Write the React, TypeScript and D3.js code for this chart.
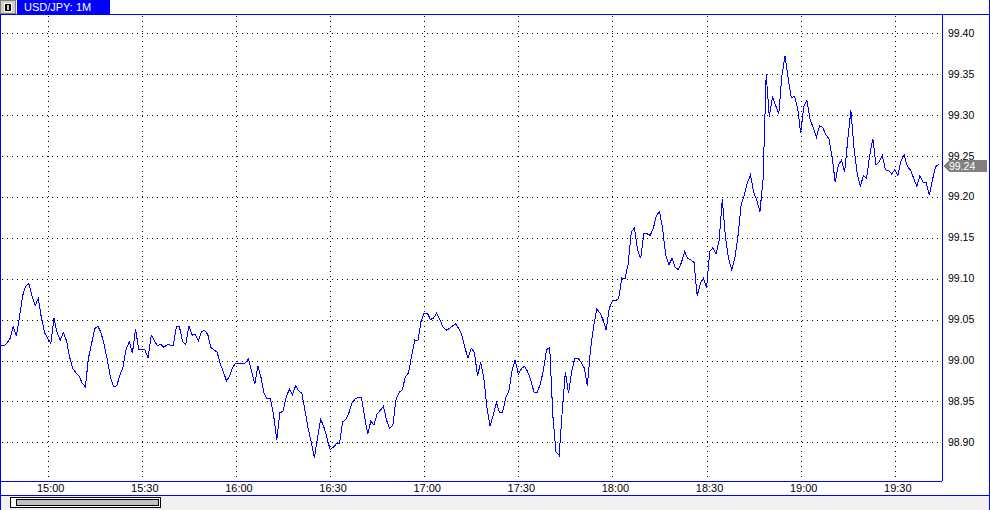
import React from 'react';
import * as d3 from 'd3';

const title = 'USD/JPY: 1M';
const startClock = [14, 45];
const prices = [
  99.018, 99.018, 99.021, 99.027, 99.041, 99.030, 99.053, 99.079, 99.091, 99.094,
  99.079, 99.067, 99.076, 99.052, 99.034, 99.027, 99.021, 99.052, 99.034, 99.025,
  99.034, 99.024, 99.004, 98.990, 98.985, 98.981, 98.972, 98.968, 99.003, 99.021,
  99.039, 99.042, 99.034, 99.019, 99.001, 98.979, 98.968, 98.969, 98.982, 98.992,
  99.014, 99.023, 99.009, 99.039, 99.013, 99.013, 99.013, 99.003, 99.031, 99.024,
  99.018, 99.020, 99.016, 99.019, 99.019, 99.018, 99.041, 99.041, 99.023, 99.019,
  99.042, 99.031, 99.032, 99.024, 99.035, 99.037, 99.032, 99.016, 99.013, 99.010,
  98.996, 98.986, 98.975, 98.981, 98.992, 98.997, 98.996, 98.996, 98.997, 99.002,
  98.986, 98.971, 98.993, 98.979, 98.959, 98.953, 98.953, 98.933, 98.903, 98.936,
  98.938, 98.955, 98.965, 98.958, 98.969, 98.963, 98.960, 98.939, 98.917, 98.900,
  98.881, 98.906, 98.928, 98.919, 98.906, 98.891, 98.894, 98.898, 98.899, 98.925,
  98.928, 98.936, 98.948, 98.953, 98.955, 98.955, 98.931, 98.910, 98.926, 98.921,
  98.935, 98.939, 98.944, 98.927, 98.917, 98.921, 98.952, 98.961, 98.964, 98.980,
  98.985, 99.006, 99.025, 99.024, 99.048, 99.058, 99.058, 99.050, 99.052, 99.058,
  99.050, 99.041, 99.037, 99.039, 99.042, 99.045, 99.039, 99.031, 99.015, 99.003,
  99.015, 99.010, 98.981, 98.998, 98.979, 98.942, 98.920, 98.933, 98.949, 98.936,
  98.937, 98.955, 98.963, 98.988, 99.001, 98.983, 98.990, 98.993, 98.986, 98.976,
  98.961, 98.961, 98.971, 98.988, 99.013, 99.016, 98.933, 98.888, 98.884, 98.938,
  98.986, 98.960, 98.986, 99.003, 99.003, 98.998, 98.991, 98.969, 99.013, 99.042,
  99.063, 99.058, 99.050, 99.037, 99.064, 99.073, 99.073, 99.076, 99.101, 99.100,
  99.118, 99.157, 99.162, 99.135, 99.125, 99.155, 99.155, 99.153, 99.161, 99.177,
  99.182, 99.161, 99.128, 99.117, 99.125, 99.114, 99.111, 99.120, 99.133, 99.125,
  99.123, 99.120, 99.079, 99.094, 99.101, 99.089, 99.133, 99.138, 99.130, 99.147,
  99.197, 99.151, 99.125, 99.111, 99.125, 99.152, 99.190, 99.202, 99.217, 99.227,
  99.206, 99.196, 99.182, 99.221, 99.350, 99.298, 99.322, 99.312, 99.301, 99.348,
  99.372, 99.345, 99.321, 99.323, 99.309, 99.278, 99.311, 99.318, 99.294, 99.285,
  99.273, 99.287, 99.285, 99.276, 99.271, 99.249, 99.218, 99.239, 99.245, 99.230,
  99.270, 99.306, 99.260, 99.229, 99.213, 99.226, 99.223, 99.251, 99.271, 99.239,
  99.243, 99.251, 99.233, 99.232, 99.228, 99.233, 99.226, 99.245, 99.251, 99.237,
  99.233, 99.223, 99.213, 99.226, 99.218, 99.218, 99.202, 99.221, 99.237, 99.240,
];
const yTicks = [98.9, 98.95, 99.0, 99.05, 99.1, 99.15, 99.2, 99.25, 99.3, 99.35, 99.4];
const timeTicks = ['15:00', '15:30', '16:00', '16:30', '17:00', '17:30', '18:00', '18:30', '19:00', '19:30'];
const lastPrice = 99.24;

const W = 990;
const H = 510;
const plotRight = 942;
const plotTop = 14;
const plotBottom = 481;
const BLUE = '#0000ff';

function clock(s: string) {
  const [h, m] = s.split(':').map(Number);
  return new Date(2013, 0, 1, h, m);
}

export default function App() {
  const t0 = new Date(2013, 0, 1, startClock[0], startClock[1]);
  const times = prices.map((_, i) => new Date(t0.getTime() + i * 60000));
  const x = d3.scaleTime().domain([clock('15:00'), clock('19:00')]).range([47.7, 800.7]);
  const y = d3.scaleLinear().domain([98.9, 99.4]).range([442.3, 33.3]);
  const line = d3
    .line<number>()
    .x((_, i) => x(times[i]))
    .y((d) => y(d));
  const path = line(prices) || '';
  const tagY = Math.round(y(lastPrice)) + 2;
  const labelFont = '"Liberation Sans", Arial, sans-serif';

  return (
    <svg
      width={W}
      height={H}
      style={{ position: 'absolute', left: 0, top: 0, display: 'block', background: '#fff' }}
    >
      <rect x={0} y={0} width={W} height={H} fill="#ffffff" />
      {/* header */}
      <rect x={0.5} y={0.5} width={15} height={13} fill="#d4d0c8" stroke="#808080" shapeRendering="crispEdges" />
      <rect x={4.5} y={3.5} width={7} height={8} fill="#000" stroke="#fff" shapeRendering="crispEdges" />
      <rect x={7} y={5} width={2} height={5} fill="#d4d0c8" shapeRendering="crispEdges" />
      <rect x={17} y={0} width={93} height={14} fill={BLUE} shapeRendering="crispEdges" />
      <text x={24} y={11} fill="#fff" fontFamily={labelFont} fontSize={11}>
        {title}
      </text>

      {/* grid */}
      <g shapeRendering="crispEdges">
        {yTicks.map((t) => (
          <line
            key={'h' + t}
            x1={2}
            x2={plotRight}
            y1={Math.round(y(t)) + 0.5}
            y2={Math.round(y(t)) + 0.5}
            stroke="#000"
            strokeDasharray="1,4"
          />
        ))}
        {timeTicks.map((t) => (
          <line
            key={'v' + t}
            x1={Math.round(x(clock(t))) + 0.5}
            x2={Math.round(x(clock(t))) + 0.5}
            y1={plotTop + 2}
            y2={plotBottom}
            stroke="#000"
            strokeDasharray="1,4"
          />
        ))}
      </g>

      {/* price line */}
      <path d={path} fill="none" stroke={BLUE} strokeWidth={1} shapeRendering="crispEdges" />

      {/* frames */}
      <g shapeRendering="crispEdges" fill="none" stroke={BLUE}>
        <line x1={0} x2={W} y1={plotTop + 0.5} y2={plotTop + 0.5} />
        <line x1={plotRight + 0.5} x2={plotRight + 0.5} y1={plotTop} y2={plotBottom} />
        <line x1={0} x2={plotRight} y1={plotBottom + 0.5} y2={plotBottom + 0.5} />
        <line x1={0.5} x2={0.5} y1={plotTop} y2={H} />
        <line x1={W - 0.5} x2={W - 0.5} y1={0} y2={H} />
        <line x1={0} x2={W} y1={495.5} y2={495.5} />
      </g>

      {/* y axis labels */}
      {yTicks.map((t) => (
        <text
          key={'yl' + t}
          x={948}
          y={y(t) + 3.5}
          fontFamily={labelFont}
          fontSize={10.5}
          fill="#000"
        >
          {t.toFixed(2)}
        </text>
      ))}

      {/* last price tag */}
      <path
        d={`M944,${tagY} L949,${tagY - 6} L987,${tagY - 6} L987,${tagY + 6} L949,${tagY + 6} Z`}
        fill="#808080"
        shapeRendering="crispEdges"
      />
      <text x={949} y={tagY + 4} fontFamily={labelFont} fontSize={10.5} fill="#fff">
        {lastPrice.toFixed(2)}
      </text>

      {/* x axis labels */}
      {timeTicks.map((t) => (
        <text
          key={'xl' + t}
          x={x(clock(t)) + 3}
          y={492}
          textAnchor="middle"
          fontFamily={'"Liberation Sans Narrow", "Liberation Sans", sans-serif'}
          fontSize={11}
          fill="#000"
        >
          {t}
        </text>
      ))}

      {/* scrollbar */}
      <rect x={1} y={496} width={W - 2} height={14} fill="#f0f0f0" shapeRendering="crispEdges" />
      <rect x={10.5} y={497.5} width={150} height={10} fill="#ffffff" stroke="#000" shapeRendering="crispEdges" />
      <rect x={16.5} y={499.5} width={142} height={6} fill="#c0c0c0" stroke="#000" shapeRendering="crispEdges" />
    </svg>
  );
}
